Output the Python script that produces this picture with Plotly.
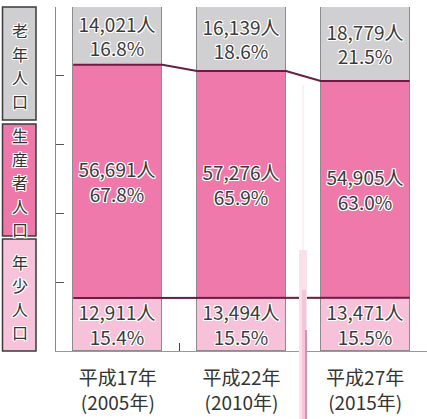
import plotly.graph_objects as go

# ---- data ----
categories = ["平成17年<br>(2005年)", "平成22年<br>(2010年)", "平成27年<br>(2015年)"]
young_count = [12911, 13494, 13471]
young_pct = [15.4, 15.5, 15.5]
prod_count = [56691, 57276, 54905]
prod_pct = [67.8, 65.9, 63.0]
elder_count = [14021, 16139, 18779]
elder_pct = [16.8, 18.6, 21.5]
group_labels = ["老年人口", "生産者人口", "年少人口"]

W, H = 427, 419
ML, MR, MT, MB = 56, 0, 7, 68
PW, PH = W - ML - MR, H - MT - MB
BAR_W = 0.72
FONT = "Noto Sans CJK JP, Noto Sans, sans-serif"
HALO = "1px 1px 0 #fff, -1px -1px 0 #fff, 1px -1px 0 #fff, -1px 1px 0 #fff, 0 1px 0 #fff, 0 -1px 0 #fff, 1px 0 0 #fff, -1px 0 0 #fff"


def px_x(p):
    return (p - ML) / PW


def px_y(p):
    return (H - MB - p) / PH


xs = list(range(len(categories)))
fig = go.Figure()


def add_bar(vals, cnts, color):
    fig.add_trace(go.Bar(
        x=xs, y=vals, width=BAR_W,
        marker=dict(color=color, line=dict(color="#8c8c8c", width=1)),
        text=[f"{c:,}人<br>{v:.1f}%" for c, v in zip(cnts, vals)],
        textposition="inside", insidetextanchor="middle", constraintext="none",
        textfont=dict(family=FONT, size=19, color="#3a3a3a", shadow=HALO),
        hoverinfo="skip", showlegend=False,
    ))


add_bar(young_pct, young_count, "#f6c1d9")
add_bar(prod_pct, prod_count, "#ef79ab")
add_bar(elder_pct, elder_count, "#d0d0d2")

# connecting boundary lines
for bounds in ([y for y in young_pct],
               [y + p for y, p in zip(young_pct, prod_pct)]):
    lx, ly = [], []
    for i, b in zip(xs, bounds):
        lx += [i - BAR_W / 2, i + BAR_W / 2]
        ly += [b, b]
    fig.add_trace(go.Scatter(x=lx, y=ly, mode="lines",
                             line=dict(color="#6a1c45", width=2),
                             hoverinfo="skip", showlegend=False))

shapes = []
# decorative pink band
shapes.append(dict(type="line", xref="paper", yref="paper", x0=px_x(303), x1=px_x(303),
                   y0=px_y(85), y1=px_y(260), line=dict(color="#f8e2ec", width=1), layer="above"))
shapes.append(dict(type="rect", xref="paper", yref="paper", x0=px_x(299), x1=px_x(307),
                   y0=px_y(250), y1=px_y(419), fillcolor="#fae0eb", line=dict(width=0), layer="above"))
shapes.append(dict(type="rect", xref="paper", yref="paper", x0=px_x(302), x1=px_x(306),
                   y0=px_y(290), y1=px_y(419), fillcolor="#f4c4d8", line=dict(width=0), layer="above"))
shapes.append(dict(type="rect", xref="paper", yref="paper", x0=px_x(305), x1=px_x(307),
                   y0=px_y(330), y1=px_y(419), fillcolor="#e08bb0", line=dict(width=0), layer="above"))

# left group label boxes (vertical text, one character per line)
boxes = [(7, 120, "#cfcfd1"), (124, 236, "#ee78aa"), (239, 351, "#f7c3da")]
CH_SIZE, CH_STEP = 16, 23.5
annotations = []
for (t, b, col), lab in zip(boxes, group_labels):
    shapes.append(dict(type="rect", xref="paper", yref="paper",
                       x0=px_x(2.5), x1=px_x(36), y0=px_y(b), y1=px_y(t),
                       fillcolor=col, line=dict(color="#3a3a3a", width=1.5)))
    mid = (t + b) / 2 + 2
    n = len(lab)
    for k, ch in enumerate(lab):
        cy = mid + (k - (n - 1) / 2) * CH_STEP
        annotations.append(dict(text=ch, xref="paper", yref="paper",
                                x=px_x(19.5), y=px_y(cy),
                                xanchor="center", yanchor="middle", showarrow=False,
                                font=dict(family=FONT, size=CH_SIZE, color="#333", shadow=HALO)))

fig.update_layout(
    width=W, height=H,
    margin=dict(l=ML, r=MR, t=MT, b=MB, autoexpand=False),
    barmode="stack", bargap=0,
    plot_bgcolor="white", paper_bgcolor="white",
    showlegend=False,
    shapes=shapes, annotations=annotations,
    xaxis=dict(range=[-0.5, 2.5], tickvals=xs, ticktext=categories,
               showline=True, linecolor="#999", linewidth=1, ticks="",
               showgrid=False, zeroline=False, automargin=False,
               tickfont=dict(family=FONT, size=19, color="#333"),
               ticklabelstandoff=10,
               minor=dict(tickvals=[0.5, 1.5, 2.5], ticks="inside", ticklen=8,
                          tickcolor="#444", tickwidth=1, showgrid=False)),
    yaxis=dict(range=[0, 100], tickvals=[0, 20, 40, 60, 80, 100],
               ticks="inside", ticklen=8, tickcolor="#555", tickwidth=1,
               showticklabels=False, showline=True, linecolor="#888", linewidth=1,
               showgrid=False, zeroline=False, automargin=False),
)

fig.write_html("out.html", config={"displayModeBar": False},
               post_script="document.body.style.margin='0';document.body.style.padding='0';")
